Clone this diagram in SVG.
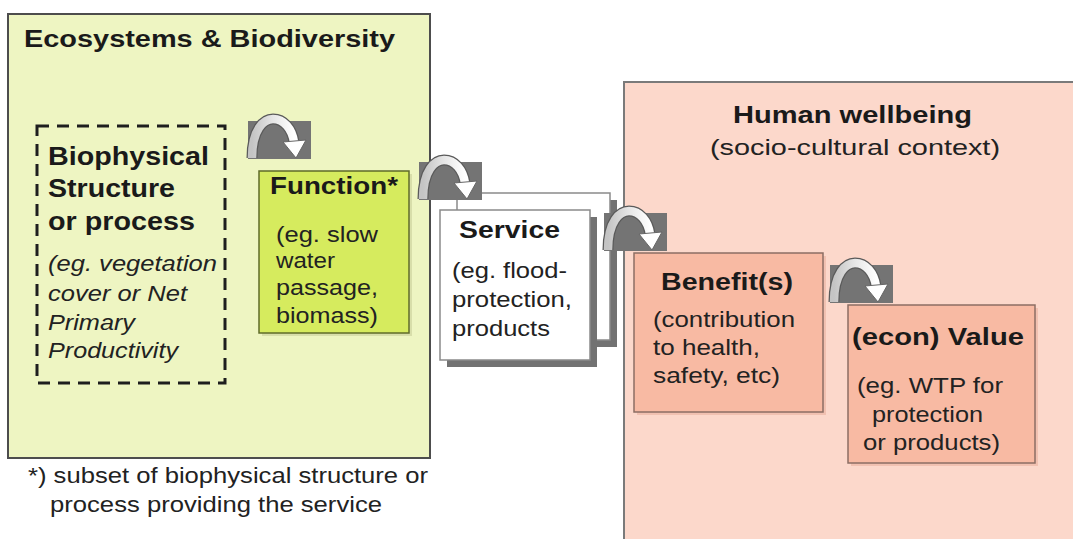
<svg xmlns="http://www.w3.org/2000/svg" xmlns:xlink="http://www.w3.org/1999/xlink" width="1073" height="539" viewBox="0 0 1073 539">
<style>
text{font-family:"Liberation Sans",Arial,sans-serif;fill:#1a1a1a}
.b{font-weight:bold;font-size:23px}
.bb{font-weight:bold;font-size:25px}
.r{font-size:22px;fill:#222}
.i{font-size:22px;font-style:italic;fill:#222}
.shadow{fill:#727272}
</style>
<defs>
<linearGradient id="arcGrad" x1="0" y1="0" x2="1" y2="0">
<stop offset="0" stop-color="#c4c4c4"/>
<stop offset="0.5" stop-color="#e6e6e6"/>
<stop offset="1" stop-color="#ffffff"/>
</linearGradient>
<g id="icon">
<rect x="1" y="6" width="63" height="38" fill="#747474"/>
<path d="M5 43 C5 14 17 4 26 4 C37 4 45 14 47 27" fill="none" stroke="#5a5a5a" stroke-width="11"/>
<path d="M5 43 C5 14 17 4 26 4 C37 4 45 14 47 27" fill="none" stroke="url(#arcGrad)" stroke-width="8.5"/>
<polygon points="36,27 59,25 49,43" fill="#ffffff" stroke="#666" stroke-width="1"/>
</g>
</defs>
<rect width="1073" height="539" fill="#ffffff"/>

<g id="ecosystems">
<rect x="8" y="14" width="422" height="444" fill="#eef5c2" stroke="#4d4d4d" stroke-width="2"/>
<text class="b" x="24" y="47" textLength="371" lengthAdjust="spacingAndGlyphs">Ecosystems &amp; Biodiversity</text>
</g>

<g id="human-wellbeing">
<rect x="624" y="82" width="470" height="480" fill="#fcd8cb" stroke="#7a7a7a" stroke-width="2"/>
<text class="b" x="733" y="123" textLength="239" lengthAdjust="spacingAndGlyphs">Human wellbeing</text>
<text class="r" x="710" y="155" textLength="290" lengthAdjust="spacingAndGlyphs">(socio-cultural context)</text>
</g>

<g id="biophysical">
<rect x="37" y="126" width="188" height="257" fill="none" stroke="#1e1e1e" stroke-width="3" stroke-dasharray="12 8"/>
<text class="bb" x="48" y="165" textLength="161" lengthAdjust="spacingAndGlyphs">Biophysical</text>
<text class="bb" x="48" y="197" textLength="127" lengthAdjust="spacingAndGlyphs">Structure</text>
<text class="bb" x="48" y="230" textLength="147" lengthAdjust="spacingAndGlyphs">or process</text>
<text class="i" x="48" y="271" textLength="169" lengthAdjust="spacingAndGlyphs">(eg. vegetation</text>
<text class="i" x="48" y="301" textLength="139" lengthAdjust="spacingAndGlyphs">cover or Net</text>
<text class="i" x="48" y="330" textLength="87" lengthAdjust="spacingAndGlyphs">Primary</text>
<text class="i" x="48" y="358" textLength="130" lengthAdjust="spacingAndGlyphs">Productivity</text>
</g>

<g id="function">
<rect x="262" y="174" width="150" height="162" fill="#c9cf9a" opacity="0.6"/>
<rect x="259" y="171" width="150" height="162" fill="#d6eb5e" stroke="#5f6b2a" stroke-width="1.5"/>
<text class="b" x="270" y="194" textLength="128" lengthAdjust="spacingAndGlyphs">Function*</text>
<text class="r" x="276" y="242" textLength="102" lengthAdjust="spacingAndGlyphs">(eg. slow</text>
<text class="r" x="276" y="268" textLength="59" lengthAdjust="spacingAndGlyphs">water</text>
<text class="r" x="276" y="295" textLength="102" lengthAdjust="spacingAndGlyphs">passage,</text>
<text class="r" x="276" y="323" textLength="102" lengthAdjust="spacingAndGlyphs">biomass)</text>
</g>

<g id="service">
<rect class="shadow" x="464" y="200" width="153" height="147"/>
<rect x="457" y="193" width="153" height="147" fill="#ffffff" stroke="#8a8a8a" stroke-width="1.5"/>
<rect class="shadow" x="447" y="217" width="150" height="150"/>
<rect x="440" y="210" width="150" height="150" fill="#ffffff" stroke="#8a8a8a" stroke-width="1.5"/>
<text class="b" x="459" y="238" textLength="101" lengthAdjust="spacingAndGlyphs">Service</text>
<text class="r" x="452" y="278" textLength="115" lengthAdjust="spacingAndGlyphs">(eg. flood-</text>
<text class="r" x="452" y="307" textLength="120" lengthAdjust="spacingAndGlyphs">protection,</text>
<text class="r" x="452" y="336" textLength="98" lengthAdjust="spacingAndGlyphs">products</text>
</g>

<g id="benefits">
<rect x="637" y="256" width="189" height="159" fill="#e9b3a0" opacity="0.6"/>
<rect x="634" y="253" width="189" height="159" fill="#f8baa3" stroke="#8c6e64" stroke-width="1.5"/>
<text class="b" x="661" y="290" textLength="132" lengthAdjust="spacingAndGlyphs">Benefit(s)</text>
<text class="r" x="653" y="327" textLength="142" lengthAdjust="spacingAndGlyphs">(contribution</text>
<text class="r" x="653" y="355" textLength="107" lengthAdjust="spacingAndGlyphs">to health,</text>
<text class="r" x="653" y="383" textLength="127" lengthAdjust="spacingAndGlyphs">safety, etc)</text>
</g>

<g id="value">
<rect x="851" y="308" width="187" height="158" fill="#e9b3a0" opacity="0.6"/>
<rect x="848" y="305" width="187" height="158" fill="#f8baa3" stroke="#8c6e64" stroke-width="1.5"/>
<text class="b" x="852" y="345" textLength="172" lengthAdjust="spacingAndGlyphs">(econ) Value</text>
<text class="r" x="857" y="393" textLength="146" lengthAdjust="spacingAndGlyphs">(eg. WTP for</text>
<text class="r" x="872" y="422" textLength="111" lengthAdjust="spacingAndGlyphs">protection</text>
<text class="r" x="863" y="450" textLength="137" lengthAdjust="spacingAndGlyphs">or products)</text>
</g>

<g id="connectors">
<use xlink:href="#icon" transform="translate(247,115)"/>
<use xlink:href="#icon" transform="translate(418,156)"/>
<use xlink:href="#icon" transform="translate(603,207)"/>
<use xlink:href="#icon" transform="translate(829,259)"/>
</g>

<g id="footnote">
<text class="r" x="28" y="483" textLength="400" lengthAdjust="spacingAndGlyphs">*) subset of biophysical structure or</text>
<text class="r" x="50" y="512" textLength="332" lengthAdjust="spacingAndGlyphs">process providing the service</text>
</g>
</svg>
